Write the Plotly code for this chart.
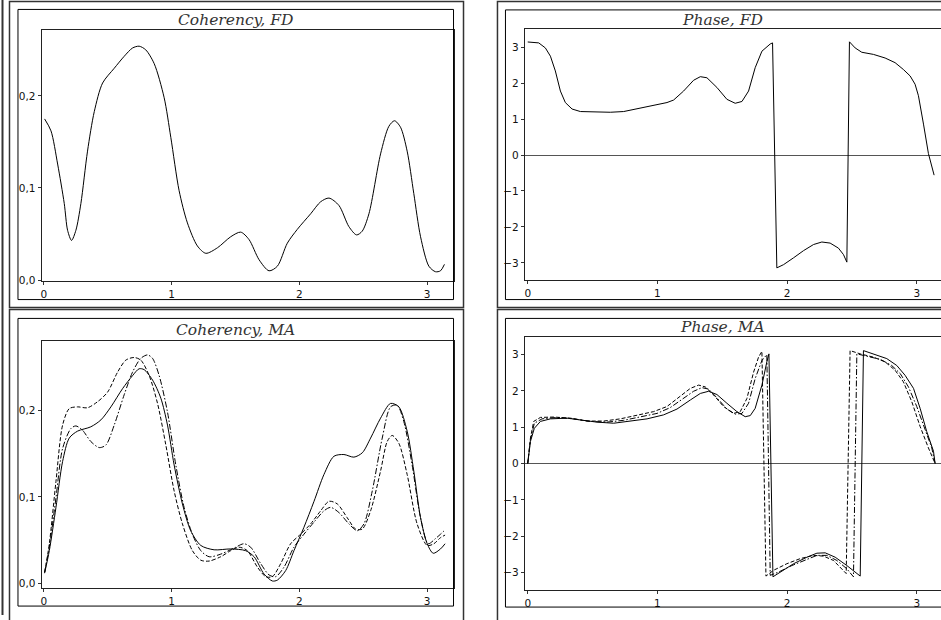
import plotly.graph_objects as go

W, H = 941, 620

# ---------------- data ----------------
coh_fd_x = [0.005, 0.055, 0.107, 0.159, 0.185, 0.216, 0.250, 0.289, 0.341, 0.394, 0.459, 0.550, 0.628, 0.693,
            0.745, 0.797, 0.863, 0.941, 0.993, 1.058, 1.123, 1.201, 1.267, 1.358, 1.462, 1.540, 1.605, 1.684,
            1.762, 1.827, 1.905, 1.983, 2.088, 2.166, 2.231, 2.309, 2.387, 2.447, 2.491, 2.544, 2.635, 2.700,
            2.744, 2.791, 2.843, 2.895, 2.948, 3.013, 3.065, 3.104, 3.135]
coh_fd_y = [0.175, 0.162, 0.126, 0.083, 0.054, 0.043, 0.054, 0.083, 0.140, 0.183, 0.214, 0.230, 0.243, 0.252,
            0.254, 0.250, 0.235, 0.198, 0.155, 0.097, 0.062, 0.037, 0.029, 0.035, 0.047, 0.052, 0.044, 0.022,
            0.010, 0.015, 0.040, 0.055, 0.072, 0.085, 0.089, 0.081, 0.058, 0.049, 0.053, 0.072, 0.137, 0.167,
            0.173, 0.166, 0.140, 0.094, 0.047, 0.015, 0.009, 0.010, 0.017]

ph_fd_x = [0.0, 0.085, 0.136, 0.175, 0.213, 0.252, 0.290, 0.342, 0.406, 0.509, 0.637, 0.740, 0.868, 0.997,
           1.074, 1.125, 1.202, 1.279, 1.331, 1.382, 1.459, 1.536, 1.600, 1.652, 1.703, 1.754, 1.806, 1.870,
           1.888, 1.921, 1.973, 2.050, 2.127, 2.204, 2.268, 2.332, 2.396, 2.435, 2.461, 2.481, 2.525, 2.576,
           2.666, 2.756, 2.833, 2.897, 2.949, 2.987, 3.013, 3.052, 3.090, 3.134]
ph_fd_y = [3.146, 3.12, 2.98, 2.75, 2.34, 1.78, 1.46, 1.28, 1.21, 1.20, 1.19, 1.21, 1.31, 1.39,
           1.46, 1.53, 1.78, 2.08, 2.18, 2.15, 1.88, 1.55, 1.44, 1.49, 1.78, 2.43, 2.89, 3.09,
           3.12, -3.14, -3.05, -2.86, -2.66, -2.49, -2.42, -2.45, -2.59, -2.77, -2.98, 3.15, 2.98, 2.86,
           2.80, 2.70, 2.57, 2.38, 2.20, 1.97, 1.65, 0.86, 0.04, -0.56]

coh_ma_solid_x = [0.005, 0.042, 0.094, 0.146, 0.198, 0.263, 0.367, 0.446, 0.524, 0.615, 0.693, 0.745, 0.784,
                  0.850, 0.915, 0.967, 1.019, 1.084, 1.149, 1.228, 1.332, 1.462, 1.579, 1.645, 1.723, 1.788,
                  1.827, 1.892, 1.957, 2.035, 2.114, 2.192, 2.270, 2.348, 2.426, 2.492, 2.557, 2.635, 2.713,
                  2.778, 2.843, 2.895, 2.948, 3.000, 3.047, 3.104, 3.14]
coh_ma_solid_y = [0.012, 0.038, 0.088, 0.141, 0.168, 0.176, 0.181, 0.189, 0.204, 0.225, 0.240, 0.248, 0.247,
                  0.235, 0.214, 0.183, 0.137, 0.092, 0.061, 0.044, 0.039, 0.040, 0.038, 0.031, 0.011, 0.003,
                  0.004, 0.015, 0.038, 0.065, 0.095, 0.126, 0.147, 0.149, 0.146, 0.151, 0.168, 0.191, 0.208,
                  0.204, 0.176, 0.130, 0.076, 0.046, 0.035, 0.040, 0.046]

coh_ma_dash_x = [0.005, 0.042, 0.094, 0.146, 0.198, 0.263, 0.341, 0.420, 0.498, 0.576, 0.641, 0.706, 0.758,
                 0.824, 0.889, 0.954, 1.019, 1.084, 1.162, 1.228, 1.293, 1.384, 1.462, 1.527, 1.592, 1.671,
                 1.736, 1.788, 1.853, 1.931, 2.009, 2.088, 2.166, 2.231, 2.296, 2.374, 2.439, 2.492, 2.557,
                 2.635, 2.687, 2.726, 2.778, 2.843, 2.921, 3.000, 3.052, 3.104, 3.14]
coh_ma_dash_y = [0.013, 0.046, 0.118, 0.183, 0.202, 0.204, 0.203, 0.210, 0.221, 0.244, 0.258, 0.261, 0.258,
                 0.240, 0.208, 0.160, 0.107, 0.069, 0.038, 0.027, 0.026, 0.031, 0.038, 0.042, 0.038, 0.019,
                 0.008, 0.008, 0.023, 0.046, 0.057, 0.069, 0.084, 0.095, 0.092, 0.076, 0.063, 0.063, 0.084,
                 0.130, 0.164, 0.171, 0.162, 0.126, 0.069, 0.044, 0.046, 0.053, 0.056]

coh_ma_dd_x = [0.005, 0.042, 0.094, 0.146, 0.211, 0.250, 0.302, 0.367, 0.433, 0.485, 0.550, 0.628, 0.693,
               0.758, 0.811, 0.850, 0.902, 0.967, 1.032, 1.097, 1.162, 1.228, 1.293, 1.384, 1.488, 1.566,
               1.618, 1.697, 1.762, 1.814, 1.879, 1.957, 2.035, 2.114, 2.192, 2.244, 2.309, 2.387, 2.452,
               2.505, 2.570, 2.648, 2.713, 2.765, 2.817, 2.882, 2.948, 3.008, 3.065, 3.104, 3.14]
coh_ma_dd_y = [0.013, 0.042, 0.099, 0.156, 0.179, 0.182, 0.177, 0.164, 0.157, 0.160, 0.183, 0.218, 0.244,
               0.260, 0.264, 0.260, 0.240, 0.198, 0.137, 0.088, 0.057, 0.038, 0.031, 0.034, 0.041, 0.046,
               0.042, 0.023, 0.010, 0.008, 0.019, 0.042, 0.057, 0.071, 0.084, 0.088, 0.082, 0.069, 0.061,
               0.069, 0.107, 0.168, 0.204, 0.206, 0.187, 0.137, 0.076, 0.046, 0.052, 0.057, 0.062]

ph_ma_solid_x = [0.0, 0.021, 0.051, 0.098, 0.175, 0.303, 0.406, 0.534, 0.663, 0.791, 0.920, 1.048, 1.151,
                 1.254, 1.331, 1.395, 1.459, 1.536, 1.613, 1.677, 1.716, 1.754, 1.806, 1.844, 1.860, 1.891,
                 1.947, 2.050, 2.153, 2.230, 2.294, 2.371, 2.461, 2.525, 2.564, 2.589, 2.666, 2.769, 2.846,
                 2.910, 2.975, 3.026, 3.077, 3.129, 3.1416]
ph_ma_solid_y = [0.0, 0.61, 0.97, 1.16, 1.23, 1.25, 1.20, 1.14, 1.11, 1.16, 1.23, 1.34, 1.50,
                 1.75, 1.93, 1.99, 1.90, 1.66, 1.43, 1.29, 1.32, 1.52, 2.16, 2.80, 3.02, -3.12,
                 -2.99, -2.76, -2.58, -2.47, -2.46, -2.58, -2.81, -2.99, -3.10, 3.11, 3.02, 2.89, 2.70,
                 2.43, 2.07, 1.52, 0.88, 0.34, 0.0]

ph_ma_dash_x = [0.0, 0.021, 0.046, 0.098, 0.200, 0.329, 0.457, 0.586, 0.714, 0.843, 0.971, 1.074, 1.176,
                1.254, 1.318, 1.369, 1.433, 1.510, 1.587, 1.639, 1.690, 1.742, 1.780, 1.806, 1.837, 1.896,
                1.998, 2.101, 2.204, 2.281, 2.358, 2.423, 2.456, 2.486, 2.564, 2.666, 2.756, 2.833, 2.897,
                2.962, 3.026, 3.090, 3.1416]
ph_ma_dash_y = [0.0, 0.70, 1.16, 1.27, 1.28, 1.25, 1.17, 1.17, 1.23, 1.32, 1.43, 1.57, 1.84,
                2.07, 2.16, 2.11, 1.89, 1.57, 1.38, 1.43, 1.79, 2.52, 2.93, 3.09, -3.10, -2.94,
                -2.76, -2.62, -2.53, -2.55, -2.67, -2.90, -3.03, 3.11, 3.02, 2.93, 2.80, 2.57, 2.25,
                1.70, 1.02, 0.43, 0.0]

ph_ma_dd_x = [0.0, 0.021, 0.051, 0.110, 0.226, 0.354, 0.483, 0.611, 0.740, 0.868, 0.997, 1.099, 1.202,
              1.279, 1.343, 1.395, 1.459, 1.536, 1.600, 1.652, 1.703, 1.754, 1.806, 1.844, 1.870, 1.934,
              2.037, 2.140, 2.230, 2.307, 2.384, 2.461, 2.512, 2.538, 2.615, 2.718, 2.807, 2.872, 2.936,
              3.000, 3.065, 3.116, 3.1416]
ph_ma_dd_y = [0.0, 0.66, 1.11, 1.23, 1.27, 1.23, 1.16, 1.14, 1.19, 1.28, 1.38, 1.54, 1.79,
              1.99, 2.09, 2.05, 1.81, 1.50, 1.36, 1.38, 1.66, 2.34, 2.84, 3.00, -3.08, -2.99,
              -2.81, -2.65, -2.53, -2.53, -2.67, -2.90, -3.12, 3.02, 2.96, 2.87, 2.70, 2.48, 2.11,
              1.57, 0.93, 0.43, 0.0]

titles = ["Coherency, FD", "Phase, FD", "Coherency, MA", "Phase, MA"]
x_ticks = [0, 1, 2, 3]
coh_ticks = [0.0, 0.1, 0.2]
ph_ticks = [-3, -2, -1, 0, 1, 2, 3]

# ---------------- layout helpers (pixels -> paper) ----------------
def px(x):
    return x / W

def py(y):
    return 1 - y / H

fig = go.Figure()

LINE = dict(color="black", width=1)
DASH = "4px,2px"
DASHDOT = "6px,2px,1.5px,2px"

fig.add_trace(go.Scatter(x=coh_fd_x, y=coh_fd_y, mode="lines", line=dict(**LINE, shape="spline", smoothing=0.8),
                         xaxis="x", yaxis="y", showlegend=False))
fig.add_trace(go.Scatter(x=ph_fd_x, y=ph_fd_y, mode="lines", line=LINE,
                         xaxis="x2", yaxis="y2", showlegend=False))
for xs, ys, d in [(coh_ma_solid_x, coh_ma_solid_y, "solid"),
                  (coh_ma_dash_x, coh_ma_dash_y, DASH),
                  (coh_ma_dd_x, coh_ma_dd_y, DASHDOT)]:
    fig.add_trace(go.Scatter(x=xs, y=ys, mode="lines",
                             line=dict(color="black", width=1, dash=d, shape="spline", smoothing=0.8),
                             xaxis="x3", yaxis="y3", showlegend=False))
for xs, ys, d in [(ph_ma_solid_x, ph_ma_solid_y, "solid"),
                  (ph_ma_dash_x, ph_ma_dash_y, DASH),
                  (ph_ma_dd_x, ph_ma_dd_y, DASHDOT)]:
    fig.add_trace(go.Scatter(x=xs, y=ys, mode="lines",
                             line=dict(color="black", width=1, dash=d),
                             xaxis="x4", yaxis="y4", showlegend=False))

TICKFONT = dict(family="DejaVu Sans", size=10.5, color="#111")

def xaxis(dom, rng):
    return dict(domain=dom, range=rng, tickvals=x_ticks, ticks="outside", ticklen=3, tickcolor="#333",
                showline=True, linecolor="#222", linewidth=1, mirror=True, showgrid=False, zeroline=False,
                tickfont=TICKFONT, fixedrange=True)

def yaxis(dom, rng, tv, fmt, zl, mirror=True):
    return dict(domain=dom, range=rng, tickvals=tv, tickformat=fmt, ticks="outside", ticklen=3, tickcolor="#333",
                showline=True, linecolor="#222", linewidth=1, mirror=mirror, showgrid=False,
                zeroline=zl, zerolinecolor="#555", zerolinewidth=1, tickfont=TICKFONT, fixedrange=True)

# plot-area pixel boxes
TLx = (40.7, 453.0); TLy = (30.7, 283.3)
TRx = (524.3, 941.0); TRy = (29.7, 282.7)
BLx = (40.7, 453.0); BLy = (344.0, 592.7)
BRx = (524.3, 941.0); BRy = (339.7, 595.0)

def xd(b):
    return [px(b[0]), px(b[1])]

def yd(b):
    return [py(b[1]), py(b[0])]

fig.update_layout(
    width=W, height=H, margin=dict(l=0, r=0, t=0, b=0),
    paper_bgcolor="white", plot_bgcolor="white",
    separators=", ",
    xaxis=xaxis(xd(TLx), [-0.018, 3.206]),
    yaxis=yaxis(yd(TLy), [-0.0011, 0.2711], coh_ticks, ".1f", False),
    xaxis2=dict(xaxis(xd(TRx), [-0.023, 3.187]), anchor="y2"),
    yaxis2=dict(yaxis(yd(TRy), [-3.489, 3.494], ph_ticks, "d", True, mirror=False), anchor="x2"),
    xaxis3=dict(xaxis(xd(BLx), [-0.018, 3.206]), anchor="y3"),
    yaxis3=dict(yaxis(yd(BLy), [-0.005, 0.2798], coh_ticks, ".1f", False), anchor="x3"),
    xaxis4=dict(xaxis(xd(BRx), [-0.023, 3.187]), anchor="y4"),
    yaxis4=dict(yaxis(yd(BRy), [-3.489, 3.486], ph_ticks, "d", True, mirror=False), anchor="x4"),
)

shapes = []
def rect(x0, y0, x1, y1, color, width):
    shapes.append(dict(type="rect", xref="paper", yref="paper", x0=px(x0), x1=px(x1), y0=py(y1), y1=py(y0),
                       line=dict(color=color, width=width), fillcolor="rgba(0,0,0,0)", layer="above"))

def vline(x, y0, y1, color, width):
    shapes.append(dict(type="line", xref="paper", yref="paper", x0=px(x), x1=px(x), y0=py(y0), y1=py(y1),
                       line=dict(color=color, width=width), layer="above"))

# outer cell borders
CB = "#333"
vline(1.5, 0, H, CB, 2)
rect(8.5, 1.5, 463, 310, CB, 1.5)
rect(8.5, 312, 463, 640, CB, 1.5)
rect(497, 1.5, 960, 310, CB, 1.5)
rect(497, 312, 960, 640, CB, 1.5)
# panel boxes
rect(17, 9.5, 453, 302, "black", 1)
rect(505, 10, 960, 302, "black", 1)
rect(17, 321, 453, 611, "black", 1)
rect(505, 321, 960, 612, "black", 1)

fig.update_layout(shapes=shapes)

TFONT = dict(family="DejaVu Serif", size=15.5, color="#333", style="italic")
for t, cx, cy in [(titles[0], 235, 20), (titles[1], 722, 20), (titles[2], 235, 332.5), (titles[3], 722, 330)]:
    fig.add_annotation(text=t, x=px(cx), y=py(cy), xref="paper", yref="paper", showarrow=False,
                       font=TFONT, xanchor="center", yanchor="middle")

fig.write_html("out.html", config={"displayModeBar": False},
               post_script="document.body.style.margin='0';document.body.style.overflow='hidden';")
